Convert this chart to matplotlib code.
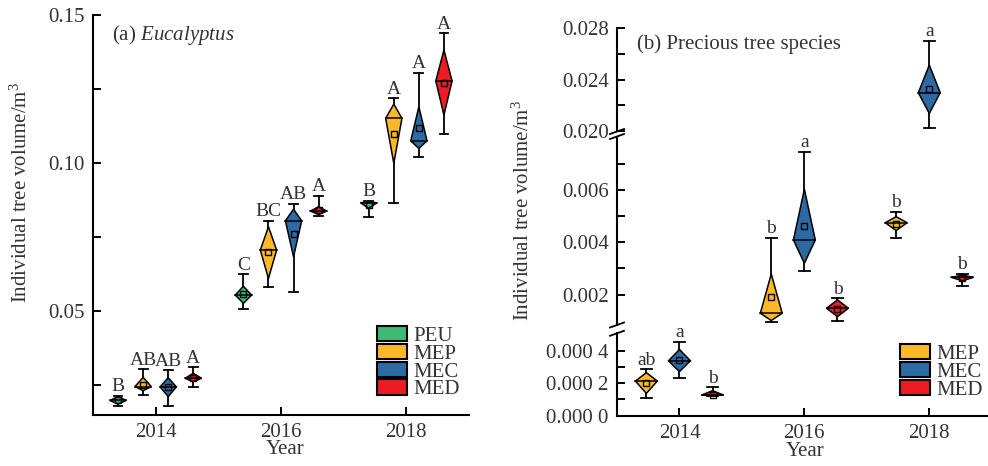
import numpy as np
import matplotlib.pyplot as plt
from matplotlib.patches import Patch
from matplotlib.lines import Line2D

plt.rcParams['font.family'] = ['Liberation Serif', 'DejaVu Serif']
plt.rcParams['mathtext.fontset'] = 'custom'
plt.rcParams['mathtext.rm'] = 'Liberation Serif'
plt.rcParams['mathtext.it'] = 'Liberation Serif:italic'
plt.rcParams['font.size'] = 15
plt.rcParams['text.color'] = '#333333'
plt.rcParams['xtick.color'] = 'black'
plt.rcParams['ytick.color'] = 'black'
plt.rcParams['xtick.labelcolor'] = '#333333'
plt.rcParams['ytick.labelcolor'] = '#333333'

# ---------------- data ----------------
years = [2014, 2016, 2018]
colors = {'PEU': '#3dba74', 'MEP': '#fbb829', 'MEC': '#2d6aa3', 'MED': '#ec1c24'}

# (a) Eucalyptus: whisker low, Q1, median, Q3, whisker high, mean
euc_treat = ['PEU', 'MEP', 'MEC', 'MED']
euc_lo = {'PEU': [0.0180, 0.0508, 0.0817], 'MEP': [0.0216, 0.0580, 0.0866],
          'MEC': [0.0180, 0.0564, 0.1021], 'MED': [0.0244, 0.0822, 0.1097]}
euc_q1 = {'PEU': [0.0186, 0.0526, 0.0847], 'MEP': [0.0231, 0.0610, 0.0999],
          'MEC': [0.0211, 0.0683, 0.1049], 'MED': [0.0261, 0.0826, 0.1162]}
euc_med = {'PEU': [0.0198, 0.0554, 0.0866], 'MEP': [0.0245, 0.0706, 0.1151],
           'MEC': [0.0244, 0.0805, 0.1075], 'MED': [0.0273, 0.0838, 0.1277]}
euc_q3 = {'PEU': [0.0211, 0.0584, 0.0869], 'MEP': [0.0276, 0.0785, 0.1199],
          'MEC': [0.0275, 0.0844, 0.1190], 'MED': [0.0290, 0.0852, 0.1382]}
euc_hi = {'PEU': [0.0213, 0.0624, 0.0872], 'MEP': [0.0303, 0.0804, 0.1219],
          'MEC': [0.0300, 0.0861, 0.1305], 'MED': [0.0310, 0.0889, 0.1438]}
euc_mean = {'PEU': [0.0198, 0.0559, 0.0858], 'MEP': [0.0252, 0.0698, 0.1097],
            'MEC': [0.0244, 0.0760, 0.1119], 'MED': [0.0275, 0.0843, 0.1271]}
euc_letters = {'PEU': ['B', 'C', 'B'], 'MEP': ['AB', 'BC', 'A'],
               'MEC': ['AB', 'AB', 'A'], 'MED': ['A', 'A', 'A']}
euc_yticks = [0.05, 0.10, 0.15]
euc_yticklabels = ['0.05', '0.10', '0.15']

# (b) Precious tree species
pre_treat = ['MEP', 'MEC', 'MED']
pre_lo = {'MEP': [0.000107, 0.00094, 0.00415], 'MEC': [0.000234, 0.00292, 0.02023],
          'MED': [0.000121, 0.00100, 0.00233]}
pre_q1 = {'MEP': [0.000137, 0.00101, 0.00445], 'MEC': [0.000271, 0.00320, 0.02135],
          'MED': [0.000124, 0.00116, 0.00253]}
pre_med = {'MEP': [0.000213, 0.00129, 0.00475], 'MEC': [0.000338, 0.00409, 0.02297],
           'MED': [0.000127, 0.00148, 0.00266]}
pre_q3 = {'MEP': [0.000265, 0.00279, 0.00498], 'MEC': [0.000408, 0.00603, 0.02513],
          'MED': [0.000154, 0.00180, 0.00275]}
pre_hi = {'MEP': [0.000285, 0.00418, 0.00516], 'MEC': [0.000455, 0.00747, 0.02701],
          'MED': [0.000175, 0.00186, 0.00279]}
pre_mean = {'MEP': [0.000203, 0.00192, 0.00470], 'MEC': [0.000343, 0.00464, 0.02326],
            'MED': [0.000130, 0.00145, 0.00262]}
pre_letters = {'MEP': ['ab', 'b', 'b'], 'MEC': ['a', 'a', 'a'], 'MED': ['b', 'b', 'b']}
pre_top_ticks = [0.020, 0.024, 0.028]
pre_top_labels = ['0.020', '0.024', '0.028']
pre_mid_ticks = [0.002, 0.004, 0.006]
pre_mid_labels = ['0.002', '0.004', '0.006']
pre_bot_ticks = [0.0, 0.0002, 0.0004]
pre_bot_labels = ['0.000 0', '0.000 2', '0.000 4']


def diamond(ax, x, lo, q1, med, q3, hi, mean, color, hw, cap, letter):
    ax.plot([x, x], [lo, hi], color='k', lw=1.3, zorder=2)
    ax.plot([x - cap, x + cap], [hi, hi], color='k', lw=1.3, zorder=2)
    ax.plot([x - cap, x + cap], [lo, lo], color='k', lw=1.3, zorder=2)
    ax.fill([x, x + hw, x, x - hw], [q1, med, q3, med], facecolor=color,
            edgecolor='k', lw=1.1, zorder=3)
    ax.plot([x - hw, x + hw], [med, med], color='k', lw=1.1, zorder=4)
    ax.plot(x, mean, marker='s', ms=4, mfc='none', mec='k', mew=1.0, zorder=5)
    ax.annotate(letter, (x, hi), xytext=(0, 0.5), textcoords='offset points',
                ha='center', va='bottom', fontsize=14, annotation_clip=False)


def style(ax):
    for s in ['top', 'right']:
        ax.spines[s].set_visible(False)
    for s in ['left', 'bottom']:
        ax.spines[s].set_linewidth(1.5)
    ax.tick_params(direction='in', length=6, width=1.4, labelsize=15, pad=6)
    ax.tick_params(which='minor', direction='in', length=6, width=1.4)


W, H = 988, 466
fig = plt.figure(figsize=(W / 100, H / 100), dpi=100)


def rect(x0, x1, ytop, ybot):
    return [x0 / W, (H - ybot) / H, (x1 - x0) / W, (ybot - ytop) / H]


def add_legend(ax, names, x0, ytop):
    ax.legend(handles=[Patch(facecolor=colors[t], edgecolor='k', lw=1.5, label=t)
                       for t in names],
              loc='upper left', bbox_to_anchor=(x0 / W, (H - ytop) / H),
              bbox_transform=fig.transFigure, frameon=False, borderpad=0,
              borderaxespad=0, handlelength=1.45, handleheight=0.75,
              labelspacing=-0.1, handletextpad=0.3, fontsize=15)


# ---------------- (a) ----------------
axa = fig.add_axes(rect(93, 469, 15, 415))
style(axa)
axa.set_xlim(2013, 2019)
axa.set_ylim(0.0149, 0.15)
offs_a = [-0.6, -0.2, 0.2, 0.6]
for t, off in zip(euc_treat, offs_a):
    for i, yr in enumerate(years):
        diamond(axa, yr + off, euc_lo[t][i], euc_q1[t][i], euc_med[t][i],
                euc_q3[t][i], euc_hi[t][i], euc_mean[t][i], colors[t],
                0.13, 0.07, euc_letters[t][i])
axa.set_xticks(years)
axa.set_yticks(euc_yticks)
axa.set_yticklabels(euc_yticklabels)
axa.set_yticks([0.025, 0.075, 0.125], minor=True)
axa.text(0.05, 0.95, r'(a) $\it{Eucalyptus}$', transform=axa.transAxes,
         ha='left', va='center', fontsize=15)
add_legend(axa, euc_treat, 377, 326)
fig.text(285 / W, (H - 450) / H, 'Year', ha='center', va='center', fontsize=15)
fig.text(21 / W, (H - 192) / H, 'Individual tree volume/m$^3$', rotation=90,
         ha='center', va='center', fontsize=15)

# ---------------- (b) broken axis ----------------
axt = fig.add_axes(rect(617, 988, 28.3, 131))
axm = fig.add_axes(rect(617, 988, 137, 325))
axb = fig.add_axes(rect(617, 988, 333, 415.7))
axt.set_ylim(0.01998, 0.028)
axm.set_ylim(0.00084, 0.008027)
axb.set_ylim(0.0, 0.000509)
for ax in (axt, axm, axb):
    style(ax)
    ax.set_xlim(2013, 2018.94)
    ax.set_xticks(years)
for ax in (axt, axm):
    ax.spines['bottom'].set_visible(False)
    ax.tick_params(axis='x', which='both', bottom=False, labelbottom=False)
axt.set_yticks(pre_top_ticks)
axt.set_yticklabels(pre_top_labels)
axt.set_yticks([0.022, 0.026], minor=True)
axm.set_yticks(pre_mid_ticks)
axm.set_yticklabels(pre_mid_labels)
axm.set_yticks([0.003, 0.005, 0.007], minor=True)
axb.set_yticks(pre_bot_ticks)
axb.set_yticklabels(pre_bot_labels)
axb.set_yticks([0.0001, 0.0003], minor=True)

offs_b = [-0.53, 0.0, 0.53]
for t, off in zip(pre_treat, offs_b):
    for i, yr in enumerate(years):
        hi = pre_hi[t][i]
        if hi >= axt.get_ylim()[0]:
            ax = axt
        elif hi >= axm.get_ylim()[0]:
            ax = axm
        else:
            ax = axb
        diamond(ax, yr + off, pre_lo[t][i], pre_q1[t][i], pre_med[t][i],
                pre_q3[t][i], hi, pre_mean[t][i], colors[t],
                0.175, 0.085, pre_letters[t][i])

axt.text(0.055, 0.85, '(b) Precious tree species', transform=axt.transAxes,
         ha='left', va='center', fontsize=15)
add_legend(axb, pre_treat, 900, 344)
fig.text(805 / W, (H - 452) / H, 'Year', ha='center', va='center', fontsize=15)
fig.text(523 / W, (H - 210) / H, 'Individual tree volume/m$^3$', rotation=90,
         ha='center', va='center', fontsize=15)

# break marks on the y axis
for yc in (131.5, 136.5, 325, 333.3):
    fig.add_artist(Line2D([(617 - 7) / W, (617 + 7) / W],
                          [(H - yc - 2.5) / H, (H - yc + 2.5) / H],
                          color='k', lw=1.3, transform=fig.transFigure))

fig.savefig('out.png', dpi=100)
